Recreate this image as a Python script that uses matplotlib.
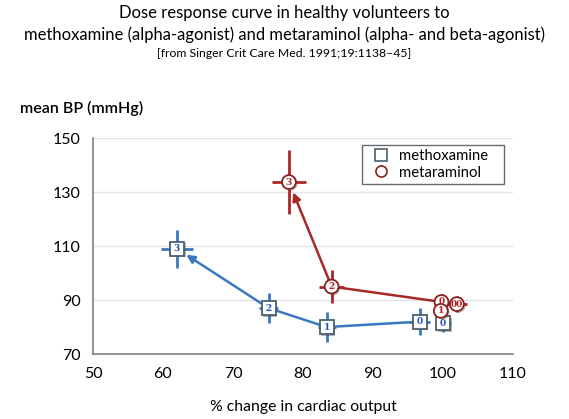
import matplotlib
matplotlib.use('Agg')
import matplotlib.pyplot as plt
import matplotlib.patheffects as pe

plt.rcParams['font.family'] = ['Lato', 'DejaVu Sans']

# methoxamine (dose labels 0..3)
meth_x = [96.7, 100.0, 83.4, 75.1, 62.0]
meth_y = [82.0, 81.5, 80.0, 87.0, 109.0]
meth_xerr = [1.5, 1.2, 1.3, 1.4, 2.3]
meth_yerr = [5.0, 3.5, 5.5, 5.5, 7.0]
meth_lab = ['0', '0', '1', '2', '3']
meth_path = [0, 2, 3, 4]

# metaraminol
meta_x = [99.8, 99.7, 102.0, 84.1, 78.0]
meta_y = [89.3, 86.0, 88.5, 95.0, 133.7]
meta_xerr = [1.0, 1.0, 1.5, 1.8, 2.4]
meta_yerr = [3.0, 2.5, 3.0, 6.0, 12.0]
meta_lab = ['0', '1', '00', '2', '3']
meta_path = [0, 3, 4]

xticks = [50, 60, 70, 80, 90, 100, 110]
yticks = [70, 90, 110, 130, 150]

blue = '#3b78c2'
blue_edge = '#4a6070'
blue_txt = '#2050c0'
red = '#a82828'
red_edge = '#8a2020'
red_txt = '#c02020'

fig = plt.figure(figsize=(5.69, 4.19), dpi=100)
ax = fig.add_axes([0.1634, 0.155, 0.738, 0.5155])


def draw_series(x, y, xe, ye, lab, path, col, edge, tcol, marker, name):
    px = [x[i] for i in path]
    py = [y[i] for i in path]
    ax.plot(px[:-1], py[:-1], color=col, lw=1.8, zorder=2)
    ax.annotate('', xy=(px[-1], py[-1]), xytext=(px[-2], py[-2]),
                arrowprops=dict(arrowstyle='-|>', color=col, lw=1.8,
                                shrinkA=0, shrinkB=8, mutation_scale=12),
                zorder=2)
    ax.errorbar(x, y, xerr=xe, yerr=ye, fmt='none', ecolor=col,
                elinewidth=2.0, capsize=0, zorder=3)
    ax.plot(x, y, ls='none', marker=marker, ms=10, mfc='white', mec=edge,
            mew=1.3, zorder=4,
            path_effects=[pe.SimplePatchShadow(offset=(1.2, -1.2), alpha=0.4),
                          pe.Normal()])
    for xi, yi, t in zip(x, y, lab):
        ax.text(xi, yi, t, ha='center', va='center', fontsize=6.5,
                color=tcol, fontweight='bold', family='DejaVu Serif', zorder=5)
    ax.plot([], [], ls='none', marker=marker, ms=8, mfc='white', mec=edge,
            mew=1.2, label=name)


draw_series(meth_x, meth_y, meth_xerr, meth_yerr, meth_lab, meth_path,
            blue, blue_edge, blue_txt, 's', 'methoxamine')
draw_series(meta_x, meta_y, meta_xerr, meta_yerr, meta_lab, meta_path,
            red, red_edge, red_txt, 'o', 'metaraminol')

ax.set_xlim(50, 110)
ax.set_ylim(70, 150)
ax.set_xticks(xticks)
ax.set_yticks(yticks)
ax.set_xticklabels([str(v) for v in xticks], fontsize=11.5)
ax.set_yticklabels([str(v) for v in yticks], fontsize=11.5)
ax.tick_params(length=0, pad=9)
ax.yaxis.grid(True, color='#e4e4e4', lw=1)
ax.set_axisbelow(True)
for s in ['top', 'right']:
    ax.spines[s].set_visible(False)
for s in ['left', 'bottom']:
    ax.spines[s].set_color('#808080')
    ax.spines[s].set_linewidth(1.2)

leg = ax.legend(loc='upper left', bbox_to_anchor=(0.64, 0.79, 0.339, 0.178),
                mode='expand', fontsize=10.7, frameon=True, fancybox=False,
                handletextpad=0.2, borderpad=0.3, labelspacing=0.15,
                handlelength=2.0, borderaxespad=0)
leg.get_frame().set_edgecolor('#444444')
leg.get_frame().set_linewidth(1.0)

ax.set_xlabel('% change in cardiac output', fontsize=11.3, labelpad=14)

fig.text(0.5, 0.968, 'Dose response curve in healthy volunteers to',
         ha='center', va='center', fontsize=12)
fig.text(0.5, 0.916,
         'methoxamine (alpha-agonist) and metaraminol (alpha- and beta-agonist)',
         ha='center', va='center', fontsize=12)
fig.text(0.5, 0.873, '[from Singer Crit Care Med. 1991;19:1138\u201345]',
         ha='center', va='center', fontsize=8.8)
fig.text(0.035, 0.742, 'mean BP (mmHg)', ha='left', va='center',
         fontsize=11.5, fontweight='semibold')

fig.savefig('out.png', dpi=100)
